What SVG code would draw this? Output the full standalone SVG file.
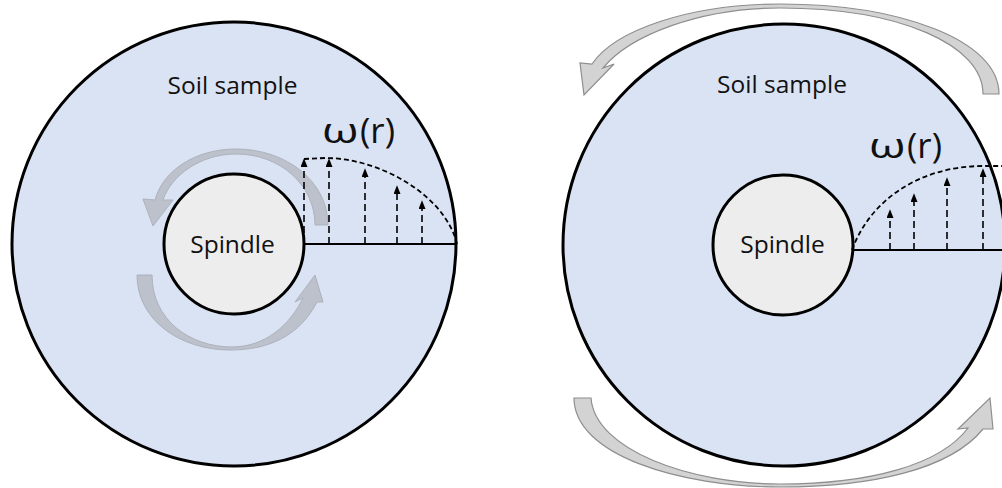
<svg xmlns="http://www.w3.org/2000/svg" width="1002" height="488" viewBox="0 0 1002 488">
<style>
.soil{fill:#dae3f3;stroke:#000;stroke-width:3}
.spindle{fill:#ededed;stroke:#000;stroke-width:3}
.lbl{font-family:"Open Sans","Liberation Sans",sans-serif;font-size:24.5px;fill:#111;text-anchor:middle}
.omega{font-family:"Open Sans","Liberation Sans",sans-serif;font-size:35px;fill:#111}
.axis{stroke:#000;stroke-width:2;fill:none}
.vec{stroke:#000;stroke-width:1.6;stroke-dasharray:7 4;fill:none}
.prof{stroke:#000;stroke-width:1.8;stroke-dasharray:5 3;fill:none}
.rotIn{fill:#bcc1cb;stroke:#adb2bc;stroke-width:1}
.rotOut{fill:#d3d3d3;stroke:#8e8e8e;stroke-width:1.2}
</style>
<defs>
<marker id="ah" viewBox="0 0 10 8" refX="0" refY="4" markerWidth="9" markerHeight="7" markerUnits="userSpaceOnUse" orient="auto">
<path d="M0,0 L10,4 L0,8 z" fill="#000"/>
</marker>
</defs>
<rect width="1002" height="488" fill="#fff"/>

<g id="left-sample">
<circle class="soil" cx="234" cy="244" r="222"/>
<text class="lbl" x="232.5" y="94">Soil sample</text>
</g>
<g id="left-rotation">
<path class="rotIn" d="M315,225 L328,225 C328,182 287,149 236,149 C196,149 163,170 155,200 L143,199 L153,226 L173,200 L163,200 C171,176 200,154 236,154 C280,154 315,185 315,225 Z"/>
<path class="rotIn" d="M137,275 L152,275 C152,320 190,347 232,347 C265,347 290,325 303,298 L295,302 L315,275 L323,302 L317,302 C300,335 270,350 230,350 C180,350 137,320 137,275 Z"/>
</g>
<g id="left-spindle">
<circle class="spindle" cx="234" cy="244" r="70"/>
<text class="lbl" x="232.5" y="253">Spindle</text>
</g>
<g id="left-profile">
<line class="axis" x1="304" y1="244" x2="457" y2="244"/>
<path class="prof" d="M304,159 L325,158 C380,158 445,195 457,244"/>
<line class="vec" x1="304" y1="244" x2="304" y2="167" marker-end="url(#ah)"/>
<line class="vec" x1="329" y1="244" x2="329" y2="167" marker-end="url(#ah)"/>
<line class="vec" x1="365" y1="244" x2="365" y2="177" marker-end="url(#ah)"/>
<line class="vec" x1="397" y1="244" x2="397" y2="194" marker-end="url(#ah)"/>
<line class="vec" x1="422" y1="244" x2="422" y2="209" marker-end="url(#ah)"/>
<text class="omega" transform="translate(322,143) scale(1.35,1)">ω</text>
<text class="omega" x="360" y="143">(r)</text>
</g>

<g id="right-sample">
<circle class="soil" cx="784" cy="245" r="221"/>
<text class="lbl" x="782" y="93">Soil sample</text>
</g>
<g id="right-rotation">
<path class="rotOut" d="M983,94 L999,94 C999,40 900,4 780,4 C690,4 615,30 592,64 L580,63 L584,95 L614,64 L603,68 C630,35 700,8 780,8 C900,8 983,45 983,94 Z"/>
<path class="rotOut" d="M574,398 L591,398 C595,450 690,484 780,484 C870,484 940,465 968,428 L958,429 L990,398 L993,429 L983,429 C950,470 870,487 780,487 C680,487 574,455 574,398 Z"/>
</g>
<g id="right-spindle">
<circle class="spindle" cx="783" cy="245" r="70"/>
<text class="lbl" x="782.5" y="253">Spindle</text>
</g>
<g id="right-profile">
<line class="axis" x1="852" y1="250" x2="1002" y2="250"/>
<path class="prof" d="M852,250 C870,200 920,166 983,166 L1002,166"/>
<line class="vec" x1="890" y1="250" x2="890" y2="218" marker-end="url(#ah)"/>
<line class="vec" x1="914" y1="250" x2="914" y2="202" marker-end="url(#ah)"/>
<line class="vec" x1="947" y1="250" x2="947" y2="186" marker-end="url(#ah)"/>
<line class="vec" x1="983" y1="250" x2="983" y2="177" marker-end="url(#ah)"/>
<text class="omega" transform="translate(869,158) scale(1.35,1)">ω</text>
<text class="omega" x="907" y="158">(r)</text>
</g>
</svg>
